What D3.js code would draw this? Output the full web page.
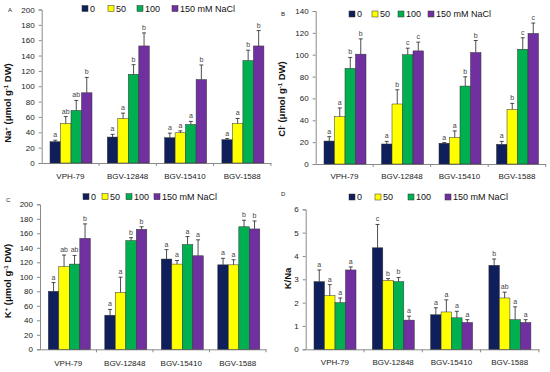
<html>
<head>
<meta charset="utf-8">
<script src="https://d3js.org/d3.v7.min.js"></script>
<style>
body { margin: 0; background: #fff; }
svg text { font-family: "Liberation Sans", Arial, sans-serif; }
.tick-label { font-size: 8px; fill: #222; }
.cat-label { font-size: 8px; fill: #222; }
.sig { font-size: 7px; fill: #444; }
.legend-text { font-size: 9px; fill: #111; }
.y-title { font-size: 9.5px; font-weight: bold; fill: #111; }
.panel-letter { font-size: 6px; fill: #222; }
</style>
</head>
<body>
<svg id="chart" width="550" height="372"></svg>
<script>
// genotypes and salt treatments
const genotypes = ["VPH-79", "BGV-12848", "BGV-15410", "BGV-1588"];
const treatments = ["0", "50", "100", "150 mM NaCl"];
const colors = ["#0f1f5c", "#ffff00", "#00b050", "#7030a0"];

// A: Na+ (umol g-1 DW), one row per genotype
const naMean = [[27.7, 51.5, 68.5, 91.5], [33.8, 58, 115.6, 152.5], [32.9, 39.4, 50.2, 108.7], [30.3, 51.5, 133.5, 152.5]];
const naErr = [[2, 9, 13, 20], [3.5, 7, 12.5, 17], [6, 2.5, 4, 19], [1.5, 6.5, 13.5, 20]];
const naLetters = [["a", "ab", "ab", "b"], ["a", "a", "b", "b"], ["a", "a", "a", "b"], ["a", "a", "b", "b"]];

// B: Cl-
const clMean = [[21, 43.3, 87.5, 100.5], [18.3, 54.9, 100, 103.5], [19, 24.3, 71.3, 102], [18, 50, 105, 119.5]];
const clErr = [[4, 8, 10, 14], [2.4, 13, 6, 8], [0.6, 6, 8.5, 11], [2.7, 5.5, 10.5, 9.5]];
const clLetters = [["a", "a", "b", "b"], ["a", "b", "c", "c"], ["a", "a", "b", "b"], ["a", "b", "c", "c"]];

// C: K+
const kMean = [[80, 114, 117.5, 153], [47, 78.5, 150, 165.5], [124.5, 117.5, 144.5, 129], [116.5, 116.5, 169, 166]];
const kErr = [[12, 16, 12, 20], [8, 21, 4, 3.5], [13, 5, 11, 22], [9, 7, 9, 11]];
const kLetters = [["a", "ab", "ab", "b"], ["a", "a", "b", "b"], ["a", "a", "a", "a"], ["a", "a", "b", "b"]];

// D: K/Na ratio
const knaMean = [[2.9, 2.3, 2.0, 3.4], [4.35, 2.95, 2.9, 1.25], [1.48, 1.6, 1.35, 1.15], [3.6, 2.2, 1.27, 1.15]];
const knaErr = [[0.5, 0.47, 0.2, 0.13], [1.0, 0.08, 0.18, 0.17], [0.3, 0.52, 0.28, 0.12], [0.27, 0.25, 0.55, 0.12]];
const knaLetters = [["a", "a", "a", "a"], ["c", "b", "b", "a"], ["a", "a", "a", "a"], ["b", "ab", "a", "a"]];

const svg = d3.select("#chart");

// layout for each panel
const panels = [
    {letter: "A", lx: 8, ly: 12, mean: naMean, err: naErr, sig: naLetters, max: 200, step: 20,
     x0: 41.7, band: 57.3, yTop: 9.5, yBot: 163, labY: 179,
     title: [["Na", 0], ["+", 1], [" (μmol g", 0], ["-1", 1], [" DW)", 0]], tx: 8, ty: 103,
     legX: [82, 108, 137, 172], legY: 8.5},
    {letter: "B", lx: 281, ly: 16, mean: clMean, err: clErr, sig: clLetters, max: 140, step: 20,
     x0: 315.7, band: 57.5, yTop: 11, yBot: 164, labY: 178.5,
     title: [["Cl", 0], ["-", 1], [" (μmol g", 0], ["-1", 1], [" DW)", 0]], tx: 282, ty: 99,
     legX: [349, 372, 398, 428], legY: 14},
    {letter: "C", lx: 6, ly: 202, mean: kMean, err: kErr, sig: kLetters, max: 200, step: 20,
     x0: 40, band: 56.5, yTop: 204.3, yBot: 349.3, labY: 365.5,
     title: [["K", 0], ["+", 1], [" (μmol g", 0], ["-1", 1], [" DW)", 0]], tx: 8, ty: 281,
     legX: [83, 102, 126, 154], legY: 196.7},
    {letter: "D", lx: 281, ly: 196, mean: knaMean, err: knaErr, sig: knaLetters, max: 6, step: 1,
     x0: 305.7, band: 58.3, yTop: 209.3, yBot: 349.3, labY: 364.5,
     title: [["K/Na", 0]], tx: 288, ty: 278.5,
     legX: [349, 375, 408, 445], legY: 197}
];

panels.forEach(drawPanel);

function drawPanel(p) {
    const g = svg.append("g");

    const x = d3.scaleBand()
        .domain(genotypes)
        .range([p.x0, p.x0 + p.band * genotypes.length]);
    const xs = d3.scaleBand()
        .domain(treatments)
        .range([8.3, 8.3 + 42]);
    const y = d3.scaleLinear()
        .domain([0, p.max])
        .range([p.yBot, p.yTop]);

    // y axis
    const yAxis = d3.axisLeft(y)
        .tickValues(d3.range(0, p.max + p.step / 2, p.step))
        .tickSize(3)
        .tickPadding(4)
        .tickFormat(d3.format("d"));
    const ya = g.append("g").attr("transform", "translate(" + p.x0 + ",0)").call(yAxis);
    ya.select(".domain").attr("stroke", "#8a8a8a");
    ya.selectAll(".tick line").attr("stroke", "#8a8a8a");
    ya.selectAll(".tick text").attr("class", "tick-label").attr("font-family", null).attr("font-size", null);

    // x axis
    const xAxis = d3.axisBottom(x).tickSize(0).tickFormat("");
    const xa = g.append("g").attr("transform", "translate(0," + p.yBot + ")").call(xAxis);
    xa.select(".domain").attr("stroke", "#8a8a8a");
    xa.selectAll(".sep")
        .data(genotypes.slice(1).concat(["end"]))
        .enter().append("line")
        .attr("x1", function(d, i) { return p.x0 + p.band * (i + 1); })
        .attr("x2", function(d, i) { return p.x0 + p.band * (i + 1); })
        .attr("y1", 0).attr("y2", 3)
        .attr("stroke", "#8a8a8a");

    g.selectAll(".cat-label")
        .data(genotypes)
        .enter().append("text")
        .attr("class", "cat-label")
        .attr("x", function(d) { return x(d) + p.band / 2; })
        .attr("y", p.labY)
        .attr("text-anchor", "middle")
        .text(function(d) { return d; });

    // bars
    const groups = g.selectAll(".grp")
        .data(genotypes)
        .enter().append("g")
        .attr("class", "grp")
        .attr("transform", function(d) { return "translate(" + x(d) + ",0)"; });

    const cells = groups.selectAll(".cell")
        .data(function(d, gi) {
            return treatments.map(function(t, ti) {
                return {t: t, ti: ti, v: p.mean[gi][ti], e: p.err[gi][ti], s: p.sig[gi][ti]};
            });
        })
        .enter().append("g");

    cells.append("rect")
        .attr("x", function(d) { return xs(d.t); })
        .attr("width", xs.bandwidth())
        .attr("y", function(d) { return y(d.v); })
        .attr("height", function(d) { return p.yBot - y(d.v); })
        .attr("fill", function(d) { return colors[d.ti]; })
        .attr("stroke", "#333")
        .attr("stroke-width", 0.5);

    // upper error bars
    cells.append("line")
        .attr("x1", function(d) { return xs(d.t) + xs.bandwidth() / 2; })
        .attr("x2", function(d) { return xs(d.t) + xs.bandwidth() / 2; })
        .attr("y1", function(d) { return y(d.v); })
        .attr("y2", function(d) { return y(d.v + d.e); })
        .attr("stroke", "#222").attr("stroke-width", 0.8);
    cells.append("line")
        .attr("x1", function(d) { return xs(d.t) + xs.bandwidth() / 2 - 2; })
        .attr("x2", function(d) { return xs(d.t) + xs.bandwidth() / 2 + 2; })
        .attr("y1", function(d) { return y(d.v + d.e); })
        .attr("y2", function(d) { return y(d.v + d.e); })
        .attr("stroke", "#222").attr("stroke-width", 0.8);

    cells.append("text")
        .attr("class", "sig")
        .attr("x", function(d) { return xs(d.t) + xs.bandwidth() / 2; })
        .attr("y", function(d) { return y(d.v + d.e) - 3; })
        .attr("text-anchor", "middle")
        .text(function(d) { return d.s; });

    // legend
    const leg = g.selectAll(".leg")
        .data(treatments)
        .enter().append("g")
        .attr("transform", function(d, i) { return "translate(" + p.legX[i] + "," + p.legY + ")"; });
    leg.append("rect")
        .attr("x", 0).attr("y", -3).attr("width", 6).attr("height", 6)
        .attr("fill", function(d, i) { return colors[i]; })
        .attr("stroke", "#333").attr("stroke-width", 0.5);
    leg.append("text")
        .attr("class", "legend-text")
        .attr("x", 8).attr("y", 3.3)
        .text(function(d) { return d; });

    // y title
    const t = g.append("text")
        .attr("class", "y-title")
        .attr("transform", "translate(" + p.tx + "," + p.ty + ") rotate(-90)")
        .attr("text-anchor", "middle")
        .attr("dy", "0.35em");
    p.title.forEach(function(part) {
        t.append("tspan")
            .attr("baseline-shift", part[1] ? "super" : null)
            .attr("font-size", part[1] ? "6px" : null)
            .text(part[0]);
    });

    g.append("text")
        .attr("class", "panel-letter")
        .attr("x", p.lx).attr("y", p.ly)
        .text(p.letter);
}
</script>
</body>
</html>
